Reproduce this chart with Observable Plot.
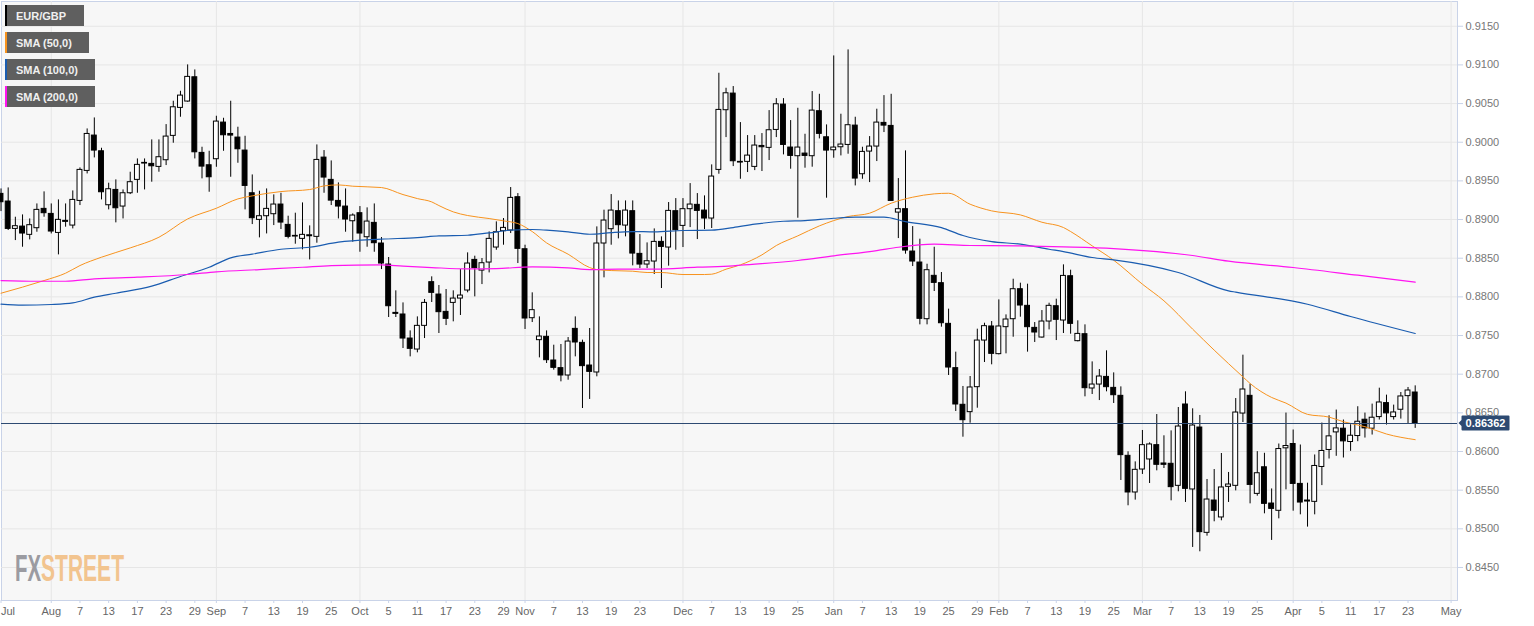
<!DOCTYPE html>
<html><head><meta charset="utf-8">
<style>html,body{margin:0;padding:0;background:#fff;overflow:hidden}svg{display:block}</style>
<script src="https://cdn.jsdelivr.net/npm/d3@7"></script>
<script src="https://cdn.jsdelivr.net/npm/@observablehq/plot@0.6"></script>
</head><body><div id="chart"></div>
<script>
// EUR/GBP daily candles, prices in units of 0.00001
const opens = [89332,89233,88879,88909,88802,88888,89138,89073,88827,88983,
88922,89241,89629,90086,89883,89185,89383,89168,89340,89513,
89724,89720,89681,89767,90082,90444,90526,90840,89862,89702,
89780,90254,90107,90060,89892,89340,88996,89043,89069,89194,
88931,88780,88750,88784,88776,89801,89513,89241,89168,88978,
89082,88771,88957,88690,88418,87793,87772,87461,87319,87625,
88190,88030,87806,87922,87978,88082,88478,88340,88444,88638,
88849,88858,89289,88616,87724,87440,87483,87177,87078,86983,
87586,87405,87112,87022,88690,88875,89108,88922,89108,88556,
88418,88457,88711,88638,89108,88918,89134,89190,89116,89013,
89642,90414,90629,89746,89746,89681,89952,89927,90159,90487,
89931,89819,89853,89819,90401,90064,89896,89935,89965,90215,
89586,89879,89944,90250,90211,89090,89134,88586,88444,87711,
88272,88177,87651,87078,86604,86509,86832,87435,87617,87259,
87608,87711,88099,87884,87599,87474,87681,87879,87694,88267,
87427,87517,86815,86866,86965,86823,86720,85944,85470,85767,
85897,86082,85845,85841,85556,86608,85509,86310,84948,85366,
85147,85543,85556,86491,86720,85452,85796,85327,85233,86041,
86097,85581,85366,85349,85800,86020,86247,86295,86123,86200,
86411,86295,86445,86626,86445,86540,86716,86763];
const closes = [89224,88879,88914,88819,88927,89125,89082,88845,88996,88970,
89254,89642,90107,89892,89353,89392,89146,89340,89483,89707,
89733,89689,89806,90073,90452,90603,90845,89870,89685,89547,
90267,90090,90086,89909,89435,89017,89043,89138,89194,88961,
88776,88789,88802,88797,89771,89543,89245,89168,89000,89052,
88819,88974,88694,88431,87879,87780,87461,87328,87625,87922,
88052,87802,87716,87978,88017,88431,88371,88435,88750,88836,
88892,89280,88621,87720,87828,87487,87181,87082,86983,87422,
87410,87104,87030,88690,88987,89116,88927,89116,88560,88418,
88461,88711,88646,89112,88862,89134,89194,89112,89013,89556,
90418,90633,89754,89737,89827,89957,89935,90155,90491,89965,
89823,89931,89823,90409,90108,89892,89931,89970,90220,89530,
89875,89944,90254,90215,89241,89134,88599,88457,87716,88345,
88181,87659,87086,86608,86405,86828,87435,87621,87263,87617,
87707,88099,87888,87608,87539,87681,87884,87703,88271,87651,
87521,86819,86866,86970,86832,86728,85953,85470,85763,86082,
86091,85828,85828,85539,86323,85517,86336,84957,85379,85233,
85535,85573,86504,86802,85568,85719,85323,85258,86032,86071,
85581,85340,85353,85813,86007,86196,86299,86131,86204,86385,
86299,86437,86634,86493,86505,86712,86789,86362];
const highs = [89396,89409,89030,89060,89008,89202,89358,89202,89254,89202,
89370,89668,90172,90314,89922,89470,89513,89383,89612,89784,
89784,90030,90030,90228,90530,90659,91000,90935,89935,89883,
90336,90310,90530,90194,90077,89577,89366,89396,89319,89340,
89043,89082,89215,88918,89965,89892,89758,89474,89396,89073,
89168,89151,89202,88767,88509,88078,87922,87560,87741,87966,
88259,88147,88095,88078,88353,88569,88526,88496,88840,88970,
89013,89414,89336,88668,88052,87741,87560,87375,87384,87474,
87741,87440,87591,88905,89121,89323,89241,89241,89241,88806,
88698,88879,88776,89220,89271,89271,89465,89336,89306,89707,
90892,90698,90720,90254,90086,90086,90112,90409,90564,90564,
90280,90439,90103,90655,90620,90224,91116,90362,91194,90323,
89935,90073,90427,90603,90620,89530,89888,88909,88746,88422,
88642,88315,87841,87285,86841,86970,87582,87659,87681,87961,
87767,88228,88177,88164,87668,87823,87918,87970,88414,88345,
87690,87638,87159,87060,87302,87017,86836,85996,85866,86272,
86112,86478,86203,86267,86569,86772,86552,86466,85638,85767,
85974,85729,86685,87246,86871,85998,85977,85516,86097,86497,
86278,86084,85590,85955,86368,86462,86536,86407,86346,86579,
86497,86613,86819,86729,86600,86763,86828,86849];
const lows = [89103,88858,88728,88642,88737,88836,89030,88814,88543,88901,
88879,89181,89590,89797,89254,89125,88957,89008,89323,89340,
89383,89483,89612,89698,89987,90323,90517,89784,89526,89353,
89676,89883,89547,89728,89125,88935,88763,88814,88922,88871,
88750,88681,88608,88478,88694,89340,89181,89008,88836,88707,
88577,88642,88577,88353,87733,87733,87332,87224,87276,87461,
87927,87526,87629,87677,87759,88052,88000,88159,88310,88603,
88668,88819,88431,87578,87668,87211,87138,87052,86901,86922,
87224,86556,86673,86966,88246,88668,88750,88776,88401,88366,
88366,88289,88108,88397,88603,88638,88896,88741,88871,88884,
89586,90060,89685,89521,89608,89633,89621,89763,90060,89836,
89651,89017,89664,89677,90043,89276,89793,89823,89845,89435,
89521,89478,89750,90125,89241,88754,88552,88392,87638,87638,
88069,87608,86983,86517,86185,86366,86560,87151,87121,87250,
87263,87478,87737,87285,87410,87466,87573,87435,87526,87517,
87418,86707,86737,86659,86772,86621,85625,85298,85371,85703,
85586,85750,85780,85362,85479,85341,84759,84703,84905,85091,
85104,85341,85491,86375,85323,85422,85194,84850,85129,85504,
85228,85181,85022,85181,85559,85903,85938,85916,86002,86127,
86174,86213,86407,86342,86407,86419,86355,86299];

// Moving averages: [bar number, value]
const sma50 = [[0,88047],[6,88211],[9,88306],[11,88405],[14,88513],[18,88633],[22,88771],[26,89008],[30,89146],[33,89267],[35,89306],[39,89362],[43,89388],[45,89435],[47,89448],[49,89431],[53,89414],[56,89323],[58,89271],[60,89228],[61,89181],[63,89099],[65,89052],[68,89013],[70,88983],[72,88948],[74,88845],[76,88698],[79,88552],[82,88379],[83,88353],[85,88340],[88,88332],[90,88315],[92,88315],[95,88289],[98,88289],[99,88293],[101,88358],[103,88414],[106,88543],[108,88664],[111,88789],[114,88918],[118,89039],[121,89082],[124,89211],[127,89289],[130,89332],[132,89340],[135,89198],[138,89112],[142,89060],[145,88965],[148,88897],[149,88845],[152,88660],[155,88474],[159,88164],[162,87949],[166,87582],[169,87311],[173,86965],[174,86880],[177,86699],[179,86626],[182,86480],[185,86445],[187,86385],[190,86321],[193,86226],[197,86153]];
const sma100 = [[0,87905],[3,87892],[7,87901],[10,87922],[13,87996],[16,88047],[21,88138],[25,88263],[29,88383],[32,88504],[35,88552],[39,88616],[43,88642],[47,88707],[53,88746],[58,88767],[61,88789],[65,88797],[68,88828],[71,88862],[74,88871],[76,88862],[79,88840],[82,88810],[85,88832],[88,88845],[91,88840],[95,88858],[99,88862],[102,88896],[105,88940],[109,88978],[112,88987],[116,89017],[119,89030],[123,89030],[126,88974],[131,88896],[134,88793],[138,88715],[142,88681],[146,88616],[148,88586],[152,88509],[155,88479],[164,88315],[171,88078],[172,88061],[182,87905],[188,87746],[197,87526]];
const sma200 = [[0,88211],[5,88202],[9,88202],[13,88233],[19,88254],[26,88289],[30,88323],[36,88353],[42,88383],[46,88405],[53,88414],[56,88397],[60,88379],[65,88362],[69,88366],[74,88388],[79,88375],[82,88353],[86,88358],[91,88358],[97,88384],[102,88401],[103,88409],[111,88470],[116,88530],[122,88599],[125,88642],[130,88681],[135,88664],[142,88659],[148,88647],[155,88625],[166,88535],[171,88461],[180,88380],[189,88280],[197,88190]];

// Axis labels, with the bar each one sits on
const xTickBars = [7,11,15,19,23,27,30,34,38,42,46,50,54,58,62,66,70,73,77,81,85,89,95,99,103,107,111,116,120,124,128,132,136,139,143,147,151,155,159,163,167,171,175,180,184,188,192,196,202];
const xTickLabels = ["Aug","7","13","17","23","29","Sep","7","13","19","25","Oct","5","11","17","23","29","Nov","7","13","19","23","Dec","7","13","19","25","Jan","7","13","19","25","29","Feb","7","13","19","25","Mar","7","13","19","25","Apr","5","11","17","23","May"];
const monthBars = [7,30,50,73,95,116,139,159,180,202];
const yTicks = [0.845,0.85,0.855,0.86,0.865,0.87,0.875,0.88,0.885,0.89,0.895,0.9,0.905,0.91,0.915];
const legendLabels = ["EUR/GBP","SMA (50,0)","SMA (100,0)","SMA (200,0)"];
const legendColors = ["#000000","#f7931e","#1a5cb0","#ff14f0"];
const lastPrice = 0.86362;

const bars = d3.range(opens.length).map(i => ({
  i, open: opens[i]/1e5, close: closes[i]/1e5, high: highs[i]/1e5, low: lows[i]/1e5,
  up: closes[i] > opens[i]
}));
const toPts = a => a.map(([i,v]) => ({i, v: v/1e5}));
const labelOf = new Map(xTickBars.map((b,k) => [b, xTickLabels[k]]));
const FONT = "'Liberation Sans', Arial, sans-serif";

function overlay(index, scales) {
  const g = d3.create("svg:g").attr("font-family", FONT).attr("text-anchor", "start");
  // price tag
  const py = scales.y(lastPrice);
  g.append("path").attr("d", `M1458.5,${py} l3,-3 v-3.5 q0,-1 1,-1 h46 q1,0 1,1 v13 q0,1 -1,1 h-46 q-1,0 -1,-1 v-3.5 z`).attr("fill", "#2d4a72");
  g.append("text").attr("x", 1485.5).attr("y", py).attr("dy", "0.35em").attr("text-anchor", "middle")
    .attr("font-size", 11).attr("font-weight", "bold").attr("fill", "#fff").text(lastPrice.toFixed(5));
  // legend
  const widths = [79, 84, 90, 90];
  legendLabels.forEach((t, k) => {
    const y0 = 5 + k * 27;
    g.append("rect").attr("x", 5).attr("y", y0).attr("width", widths[k]).attr("height", 21).attr("fill", "#5f5f5f");
    g.append("rect").attr("x", 5).attr("y", y0).attr("width", 2).attr("height", 21).attr("fill", legendColors[k]);
    g.append("text").attr("x", 16).attr("y", y0 + 11).attr("dy", "0.35em").attr("font-size", 11)
      .attr("font-weight", "bold").attr("fill", "#f0f0f0").text(t);
  });
  // watermark
  const wm = [["FX", 15, 26, "#9b9ba1"], ["STREET", 41, 83, "#f2c48f"]];
  wm.forEach(([t, x, len, c]) => {
    g.append("text").attr("x", x).attr("y", 580.7).attr("font-size", 37).attr("font-weight", "bold")
      .attr("font-family", "'Liberation Sans Narrow','Liberation Sans',sans-serif")
      .attr("textLength", len).attr("lengthAdjust", "spacingAndGlyphs").attr("fill", c).text(t);
  });
  return g.node();
}

const chart = Plot.plot({
  width: 1534, height: 626,
  marginLeft: 1, marginRight: 77, marginTop: 1, marginBottom: 26,
  style: {background: "#fff", fontFamily: FONT},
  x: {domain: [0, 197], range: [0.5, 1414.7], axis: null},
  y: {domain: [0.91820, 0.84073], range: [1, 600], axis: null},
  marks: [
    Plot.frame({fill: "#f7f7f7", stroke: "#c9d3e8"}),
    Plot.gridY(yTicks, {stroke: "#e6e6e6", strokeOpacity: 1}),
    Plot.gridX(monthBars, {stroke: "#e6e6e6", strokeOpacity: 1}),
    Plot.axisY({anchor: "right", ticks: yTicks, tickFormat: d3.format(".4f"), tickSize: 5, tickPadding: 3, fontSize: 11, color: "#777", stroke: "#c9d3e8", label: null}),
    Plot.axisX({ticks: xTickBars, tickFormat: d => labelOf.get(d), tickSize: 3, tickPadding: 4, fontSize: 11, color: "#666", stroke: "#c9d3e8", label: null}),
    Plot.axisX({ticks: [0], tickFormat: () => "Jul", tickSize: 3, tickPadding: 4, fontSize: 11, color: "#666", stroke: "#c9d3e8", textAnchor: "start", label: null}),
    Plot.ruleX(bars, {x: "i", y1: "low", y2: "high", stroke: "#000", strokeWidth: 1}),
    Plot.rect(bars, {x1: d => d.i - 0.34, x2: d => d.i + 0.34, y1: "open", y2: "close", fill: d => d.up ? "#fff" : "#000", stroke: "#000", strokeWidth: 1}),
    Plot.line(toPts(sma50), {x: "i", y: "v", stroke: "#f7931e", strokeWidth: 1, curve: "monotone-x"}),
    Plot.line(toPts(sma100), {x: "i", y: "v", stroke: "#1a5cb0", strokeWidth: 1.2, curve: "monotone-x"}),
    Plot.line(toPts(sma200), {x: "i", y: "v", stroke: "#ff14f0", strokeWidth: 1.2, curve: "monotone-x"}),
    Plot.ruleY([lastPrice], {stroke: "#2d4a72", strokeWidth: 1}),
    overlay
  ]
});
document.getElementById("chart").appendChild(chart);
</script></body></html>
